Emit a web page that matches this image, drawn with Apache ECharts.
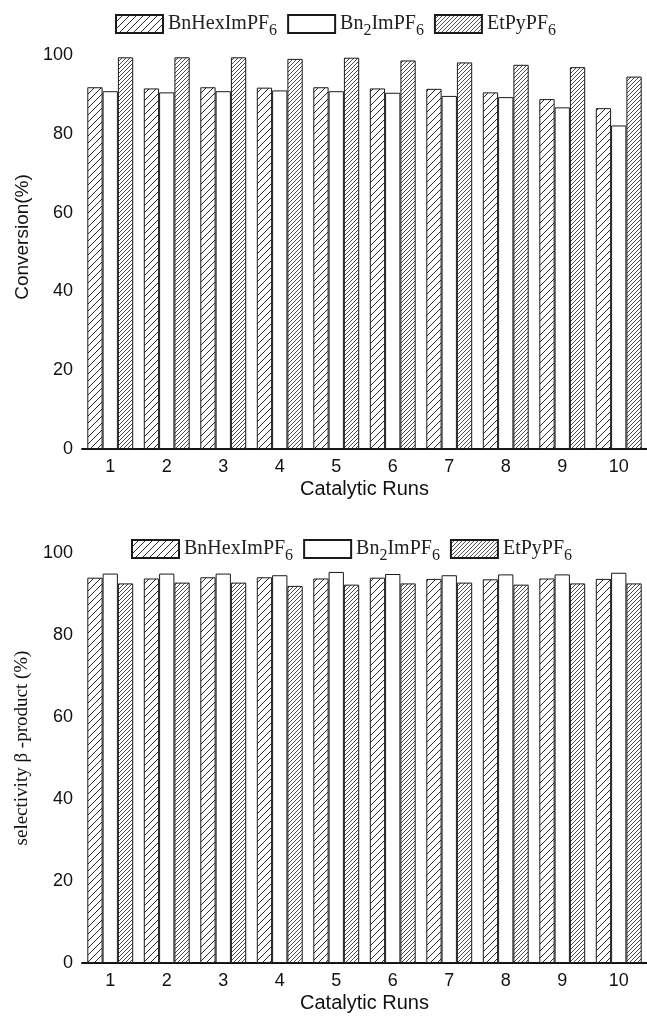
<!DOCTYPE html>
<html>
<head>
<meta charset="utf-8">
<script src="https://cdn.jsdelivr.net/npm/echarts@6/dist/echarts.min.js"></script>
<style>
html,body{margin:0;padding:0;background:#fff;}
#c{width:647px;height:1018px;}
</style>
</head>
<body>
<div id="c"></div>
<script>
const categories = ['1','2','3','4','5','6','7','8','9','10'];
const seriesNames = ['BnHexImPF6','Bn2ImPF6','EtPyPF6'];
const legendLabels = ['{n|BnHexImPF}{s|6}','{n|Bn}{s|2}{n|ImPF}{s|6}','{n|EtPyPF}{s|6}'];
const yTickLabels = [0,20,40,60,80,100];

const convBnHex = [91.8, 91.5, 91.8, 91.7, 91.8, 91.5, 91.4, 90.5, 88.8, 86.5];
const convBn2   = [90.8, 90.5, 90.8, 91.0, 90.8, 90.4, 89.6, 89.3, 86.7, 82.1];
const convEtPy  = [99.4, 99.4, 99.4, 99.0, 99.3, 98.6, 98.1, 97.5, 96.9, 94.5];

const selBnHex = [94.0, 93.8, 94.1, 94.1, 93.8, 94.0, 93.7, 93.6, 93.8, 93.7];
const selBn2   = [95.0, 95.0, 95.0, 94.6, 95.4, 94.9, 94.6, 94.8, 94.8, 95.2];
const selEtPy  = [92.6, 92.8, 92.8, 92.0, 92.3, 92.6, 92.8, 92.3, 92.6, 92.6];

function hatch(n, lw, color) {
  const c = document.createElement('canvas');
  c.width = n; c.height = n;
  const g = c.getContext('2d');
  g.fillStyle = '#fff';
  g.fillRect(0, 0, n, n);
  g.strokeStyle = color;
  g.lineWidth = lw;
  g.beginPath();
  g.moveTo(0, n); g.lineTo(n, 0);
  g.moveTo(-n/2, n/2); g.lineTo(n/2, -n/2);
  g.moveTo(n/2, n + n/2); g.lineTo(n + n/2, n/2);
  g.stroke();
  return c;
}
const sparse = { image: hatch(7, 1.0, '#2a2a2a'), repeat: 'repeat' };
const dense = { image: hatch(4, 0.85, '#2a2a2a'), repeat: 'repeat' };
const fills = [sparse, '#ffffff', dense];

const chart = echarts.init(document.getElementById('c'), null, { renderer: 'canvas' });

const axisCommon = {
  axisLine: { lineStyle: { color: '#111', width: 1.8 } },
  axisTick: { show: false },
  splitLine: { show: false }
};
const sansFont = 'Liberation Sans';
const serifFont = 'Liberation Serif';

function xAxis(gi) {
  return Object.assign({}, axisCommon, {
    type: 'category', gridIndex: gi, data: categories, boundaryGap: true,
    axisLabel: { fontFamily: sansFont, fontSize: 18, color: '#111', margin: 9 },
    name: 'Catalytic Runs', nameLocation: 'middle', nameGap: 30,
    nameTextStyle: { fontFamily: sansFont, fontSize: 20, color: '#111' }
  });
}
function yAxis(gi, max, name, font, fsize) {
  return Object.assign({}, axisCommon, {
    type: 'value', gridIndex: gi, min: 0, max: max, interval: 20,
    axisLabel: { fontFamily: sansFont, fontSize: 18, color: '#111', margin: 9,
      formatter: v => (yTickLabels.indexOf(v) >= 0 ? String(v) : '') },
    name: name, nameLocation: 'middle', nameGap: 50, nameRotate: 90,
    nameTextStyle: { fontFamily: font, fontSize: fsize, color: '#111' }
  });
}

const rich = {
  n: { fontFamily: serifFont, fontSize: 20, color: '#222', lineHeight: 30, verticalAlign: 'middle' },
  s: { fontFamily: serifFont, fontSize: 16, color: '#222', lineHeight: 4, verticalAlign: 'bottom' }
};
function legend(left, top) {
  return {
    left: left, top: top, orient: 'horizontal', padding: 0,
    data: seriesNames, itemWidth: 47, itemHeight: 18, itemGap: 10,
    icon: 'rect',
    formatter: name => legendLabels[seriesNames.indexOf(name)],
    textStyle: { rich: rich, fontFamily: serifFont, fontSize: 20, color: '#222' }
  };
}

const convData = [convBnHex, convBn2, convEtPy];
const selData = [selBnHex, selBn2, selEtPy];
const series = [];
[convData, selData].forEach((set, gi) => {
  set.forEach((d, i) => {
    series.push({
      type: 'bar', name: seriesNames[i], xAxisIndex: gi, yAxisIndex: gi,
      data: d, barWidth: 15.3, barGap: '0%',
      itemStyle: { color: fills[i], borderColor: '#1a1a1a', borderWidth: 1 },
      emphasis: { disabled: true },
      animation: false
    });
  });
});

chart.setOption({
  animation: false,
  backgroundColor: '#fff',
  grid: [
    { left: 82, top: 25, width: 570, height: 424 },
    { left: 82, top: 533, width: 570, height: 430 }
  ],
  legend: [legend(115, 14), legend(131, 539)],
  xAxis: [xAxis(0), xAxis(1)],
  yAxis: [
    yAxis(0, 107.6, 'Conversion(%)', sansFont, 19),
    yAxis(1, 104.9, 'selectivity β -product (%)', serifFont, 19)
  ],
  series: series
});
</script>
</body>
</html>
